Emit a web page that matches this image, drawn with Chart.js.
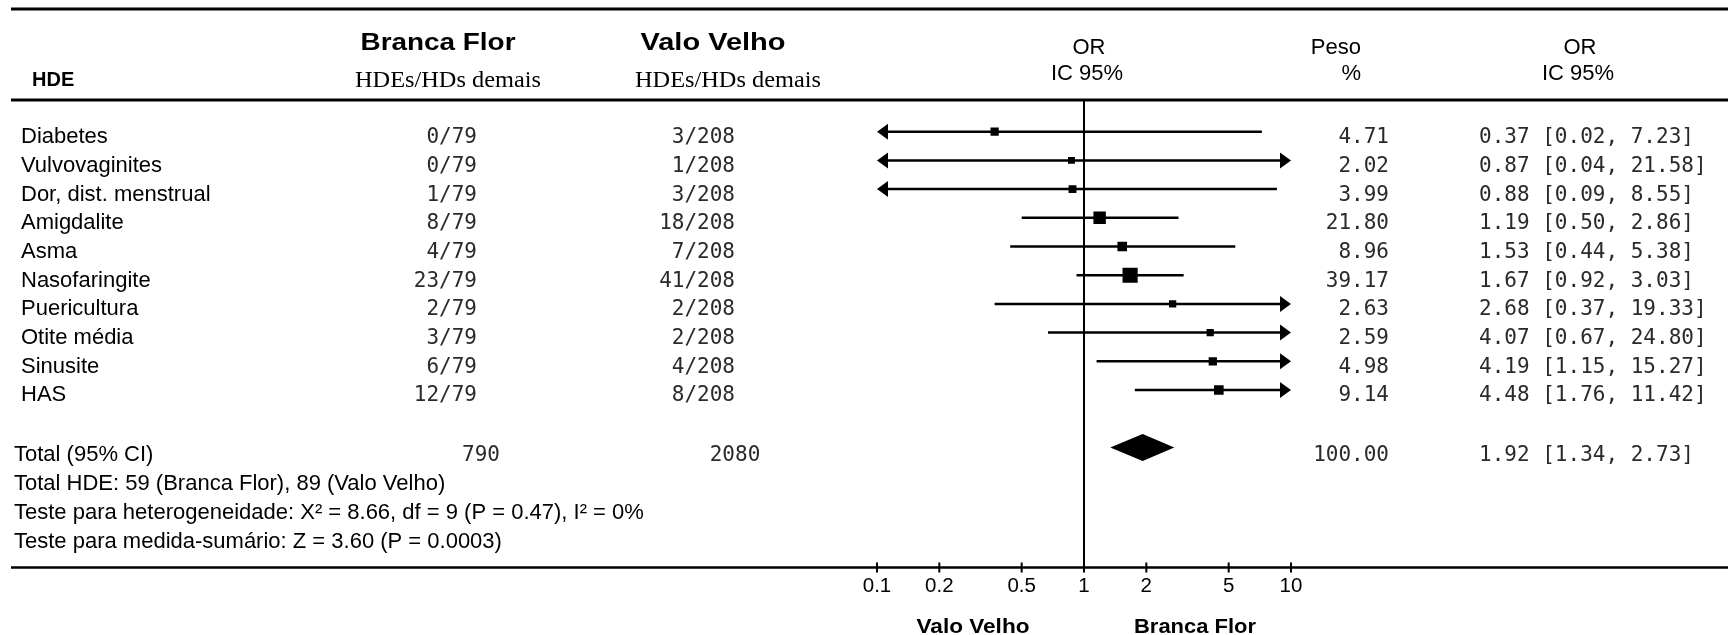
<!DOCTYPE html>
<html>
<head>
<meta charset="utf-8">
<script src="https://cdn.jsdelivr.net/npm/chart.js@4.4.1/dist/chart.umd.min.js"></script>
<style>
  html, body { margin: 0; padding: 0; background: #fff; }
  #wrap { width: 1728px; height: 635px; }
</style>
</head>
<body>
<div id="wrap"><canvas id="forest" width="1728" height="635"></canvas></div>
<script>
// --- Dados ---
const categories = ['Diabetes', 'Vulvovaginites', 'Dor, dist. menstrual', 'Amigdalite', 'Asma',
  'Nasofaringite', 'Puericultura', 'Otite média', 'Sinusite', 'HAS'];
const brancaFlor = ['0/79', '0/79', '1/79', '8/79', '4/79', '23/79', '2/79', '3/79', '6/79', '12/79'];
const valoVelho = ['3/208', '1/208', '3/208', '18/208', '7/208', '41/208', '2/208', '2/208', '4/208', '8/208'];
const oddsRatio = [0.37, 0.87, 0.88, 1.19, 1.53, 1.67, 2.68, 4.07, 4.19, 4.48];
const ciLow = [0.02, 0.04, 0.09, 0.50, 0.44, 0.92, 0.37, 0.67, 1.15, 1.76];
const ciHigh = [7.23, 21.58, 8.55, 2.86, 5.38, 3.03, 19.33, 24.80, 15.27, 11.42];
const weights = [4.71, 2.02, 3.99, 21.80, 8.96, 39.17, 2.63, 2.59, 4.98, 9.14];

const totalLabel = 'Total (95% CI)';
const totalBranca = '790';
const totalValo = '2080';
const totalOR = 1.92;
const totalLow = 1.34;
const totalHigh = 2.73;
const totalWeight = 100;

const footerLines = [
  'Total HDE: 59 (Branca Flor), 89 (Valo Velho)',
  'Teste para heterogeneidade: X² = 8.66, df = 9 (P = 0.47), I² = 0%',
  'Teste para medida-sumário: Z = 3.60 (P = 0.0003)'
];

const xTicks = [0.1, 0.2, 0.5, 1, 2, 5, 10];
const favours = ['Valo Velho', 'Branca Flor'];

// --- Estilos ---
const SANS = '"Liberation Sans", Arial, sans-serif';
const SERIF = '"Liberation Serif", "Times New Roman", serif';
const MONO = '"DejaVu Sans Mono", monospace';
const X_MIN = 0.1, X_MAX = 10;

// texte avec ancrage sur la ligne de base, largeur cible optionnelle
function txt(ctx, s, x, base, font, align, w, color) {
  ctx.save();
  ctx.font = font;
  ctx.fillStyle = color || '#000';
  ctx.textBaseline = 'alphabetic';
  ctx.textAlign = 'left';
  const m = ctx.measureText(s).width;
  const sx = w ? w / m : 1;
  let x0 = x;
  if (align === 'center') x0 = x - m * sx / 2;
  else if (align === 'right') x0 = x - m * sx;
  ctx.translate(x0, base);
  ctx.scale(sx, 1);
  ctx.fillText(s, 0, 0);
  ctx.restore();
}

function hline(ctx, x1, x2, y, w) {
  ctx.save();
  ctx.strokeStyle = '#000';
  ctx.lineWidth = w;
  ctx.beginPath();
  ctx.moveTo(x1, y);
  ctx.lineTo(x2, y);
  ctx.stroke();
  ctx.restore();
}

function arrow(ctx, tipX, y, dir) {
  // dir = -1 pointe à gauche, +1 à droite
  ctx.beginPath();
  ctx.moveTo(tipX, y);
  ctx.lineTo(tipX - dir * 11, y - 8);
  ctx.lineTo(tipX - dir * 11, y + 8);
  ctx.closePath();
  ctx.fill();
}

const forestPlugin = {
  id: 'forest',
  beforeDatasetsDraw(chart) {
    const { ctx, chartArea, scales: { x, y } } = chart;
    ctx.save();
    ctx.strokeStyle = '#000';
    ctx.fillStyle = '#000';

    // ligne de non-effet
    const x1 = x.getPixelForValue(1);
    ctx.lineWidth = 2;
    ctx.beginPath();
    ctx.moveTo(x1, chartArea.top);
    ctx.lineTo(x1, chartArea.bottom);
    ctx.stroke();

    // intervalles de confiance
    ctx.lineWidth = 2.5;
    categories.forEach((c, i) => {
      const py = y.getPixelForValue(i);
      const cutL = ciLow[i] < X_MIN;
      const cutR = ciHigh[i] > X_MAX;
      const xl = x.getPixelForValue(Math.max(ciLow[i], X_MIN));
      const xr = x.getPixelForValue(Math.min(ciHigh[i], X_MAX));
      ctx.beginPath();
      ctx.moveTo(cutL ? xl + 8 : xl, py);
      ctx.lineTo(cutR ? xr - 8 : xr, py);
      ctx.stroke();
      if (cutL) arrow(ctx, xl, py, -1);
      if (cutR) arrow(ctx, xr, py, 1);
    });

    // losange du total
    const ty = y.getPixelForValue(categories.length + 1);
    ctx.beginPath();
    ctx.moveTo(x.getPixelForValue(totalLow), ty);
    ctx.lineTo(x.getPixelForValue(totalOR), ty - 13.5);
    ctx.lineTo(x.getPixelForValue(totalHigh), ty);
    ctx.lineTo(x.getPixelForValue(totalOR), ty + 13.5);
    ctx.closePath();
    ctx.fill();
    ctx.restore();
  },
  afterDraw(chart) {
    const { ctx, chartArea, scales: { x, y } } = chart;
    const W = chart.width;

    // filets
    hline(ctx, 11, W, 9, 3);
    hline(ctx, 11, W, 100, 3);
    hline(ctx, 11, W, chartArea.bottom, 2.5);

    // graduations (au-dessus et en dessous de l'axe)
    ctx.save();
    ctx.strokeStyle = '#000';
    ctx.lineWidth = 2;
    x.ticks.forEach(t => {
      const px = x.getPixelForValue(t.value);
      ctx.beginPath();
      ctx.moveTo(px, chartArea.bottom - 5);
      ctx.lineTo(px, chartArea.bottom + 5);
      ctx.stroke();
    });
    ctx.restore();

    // en-têtes
    txt(ctx, 'HDE', 32, 86, 'bold 20px ' + SANS, 'left');
    txt(ctx, 'Branca Flor', 438, 50, 'bold 23px ' + SANS, 'center', 155);
    txt(ctx, 'HDEs/HDs demais', 448, 87, '23px ' + SERIF, 'center', 186);
    txt(ctx, 'Valo Velho', 713, 50, 'bold 23px ' + SANS, 'center', 145);
    txt(ctx, 'HDEs/HDs demais', 728, 87, '23px ' + SERIF, 'center', 186);
    txt(ctx, 'OR', 1089, 54, '22px ' + SANS, 'center');
    txt(ctx, 'IC 95%', 1087, 80, '22px ' + SANS, 'center');
    txt(ctx, 'Peso', 1361, 54, '22px ' + SANS, 'right');
    txt(ctx, '%', 1361, 80, '22px ' + SANS, 'right');
    txt(ctx, 'OR', 1580, 54, '22px ' + SANS, 'center');
    txt(ctx, 'IC 95%', 1578, 80, '22px ' + SANS, 'center');

    // lignes des études
    const LAB = '22px ' + SANS;
    const NUM = '21px ' + MONO;
    const GREY = '#2a2a2a';
    categories.forEach((c, i) => {
      const base = y.getPixelForValue(i) + 11.5;
      txt(ctx, c, 21, base, LAB, 'left');
      txt(ctx, brancaFlor[i], 477, base, NUM, 'right', null, GREY);
      txt(ctx, valoVelho[i], 735, base, NUM, 'right', null, GREY);
      txt(ctx, weights[i].toFixed(2), 1389, base, NUM, 'right', null, GREY);
      txt(ctx, `${oddsRatio[i].toFixed(2)} [${ciLow[i].toFixed(2)}, ${ciHigh[i].toFixed(2)}]`,
        1479, base, NUM, 'left', null, GREY);
    });

    // total
    const tb = y.getPixelForValue(categories.length + 1) + 14;
    txt(ctx, totalLabel, 14, tb, LAB, 'left');
    txt(ctx, totalBranca, 481, tb, NUM, 'center', null, GREY);
    txt(ctx, totalValo, 735, tb, NUM, 'center', null, GREY);
    txt(ctx, totalWeight.toFixed(2), 1389, tb, NUM, 'right', null, GREY);
    txt(ctx, `${totalOR.toFixed(2)} [${totalLow.toFixed(2)}, ${totalHigh.toFixed(2)}]`,
      1479, tb, NUM, 'left', null, GREY);

    footerLines.forEach((s, k) => {
      txt(ctx, s, 14, tb + 28.8 * (k + 1), LAB, 'left');
    });

    // favorece
    txt(ctx, favours[0], 973, 633, 'bold 21px ' + SANS, 'center', 113);
    txt(ctx, favours[1], 1195, 633, 'bold 21px ' + SANS, 'center', 122);
  }
};

const chart = new Chart(document.getElementById('forest'), {
  type: 'scatter',
  data: {
    datasets: [{
      data: oddsRatio.map((v, i) => ({ x: v, y: i })),
      pointStyle: 'rect',
      pointRadius: weights.map(w => (4.5 + 1.7 * Math.sqrt(w)) / Math.SQRT2),
      backgroundColor: '#000',
      borderWidth: 0
    }]
  },
  options: {
    responsive: false,
    animation: false,
    devicePixelRatio: 1,
    events: [],
    layout: { padding: { left: 877, right: 437, top: 100, bottom: 0 } },
    plugins: { legend: { display: false }, tooltip: { enabled: false } },
    scales: {
      x: {
        type: 'logarithmic',
        min: X_MIN,
        max: X_MAX,
        afterBuildTicks: s => { s.ticks = xTicks.map(v => ({ value: v })); },
        afterFit: s => { s.height = 67.5; },
        grid: { display: false, drawTicks: false },
        border: { display: false },
        ticks: {
          color: '#000',
          font: { family: SANS, size: 20.5 },
          padding: 7,
          maxRotation: 0,
          autoSkip: false,
          callback: v => String(v)
        }
      },
      y: { display: false, reverse: true, min: -1.105, max: 15.185 }
    }
  },
  plugins: [forestPlugin]
});
</script>
</body>
</html>
